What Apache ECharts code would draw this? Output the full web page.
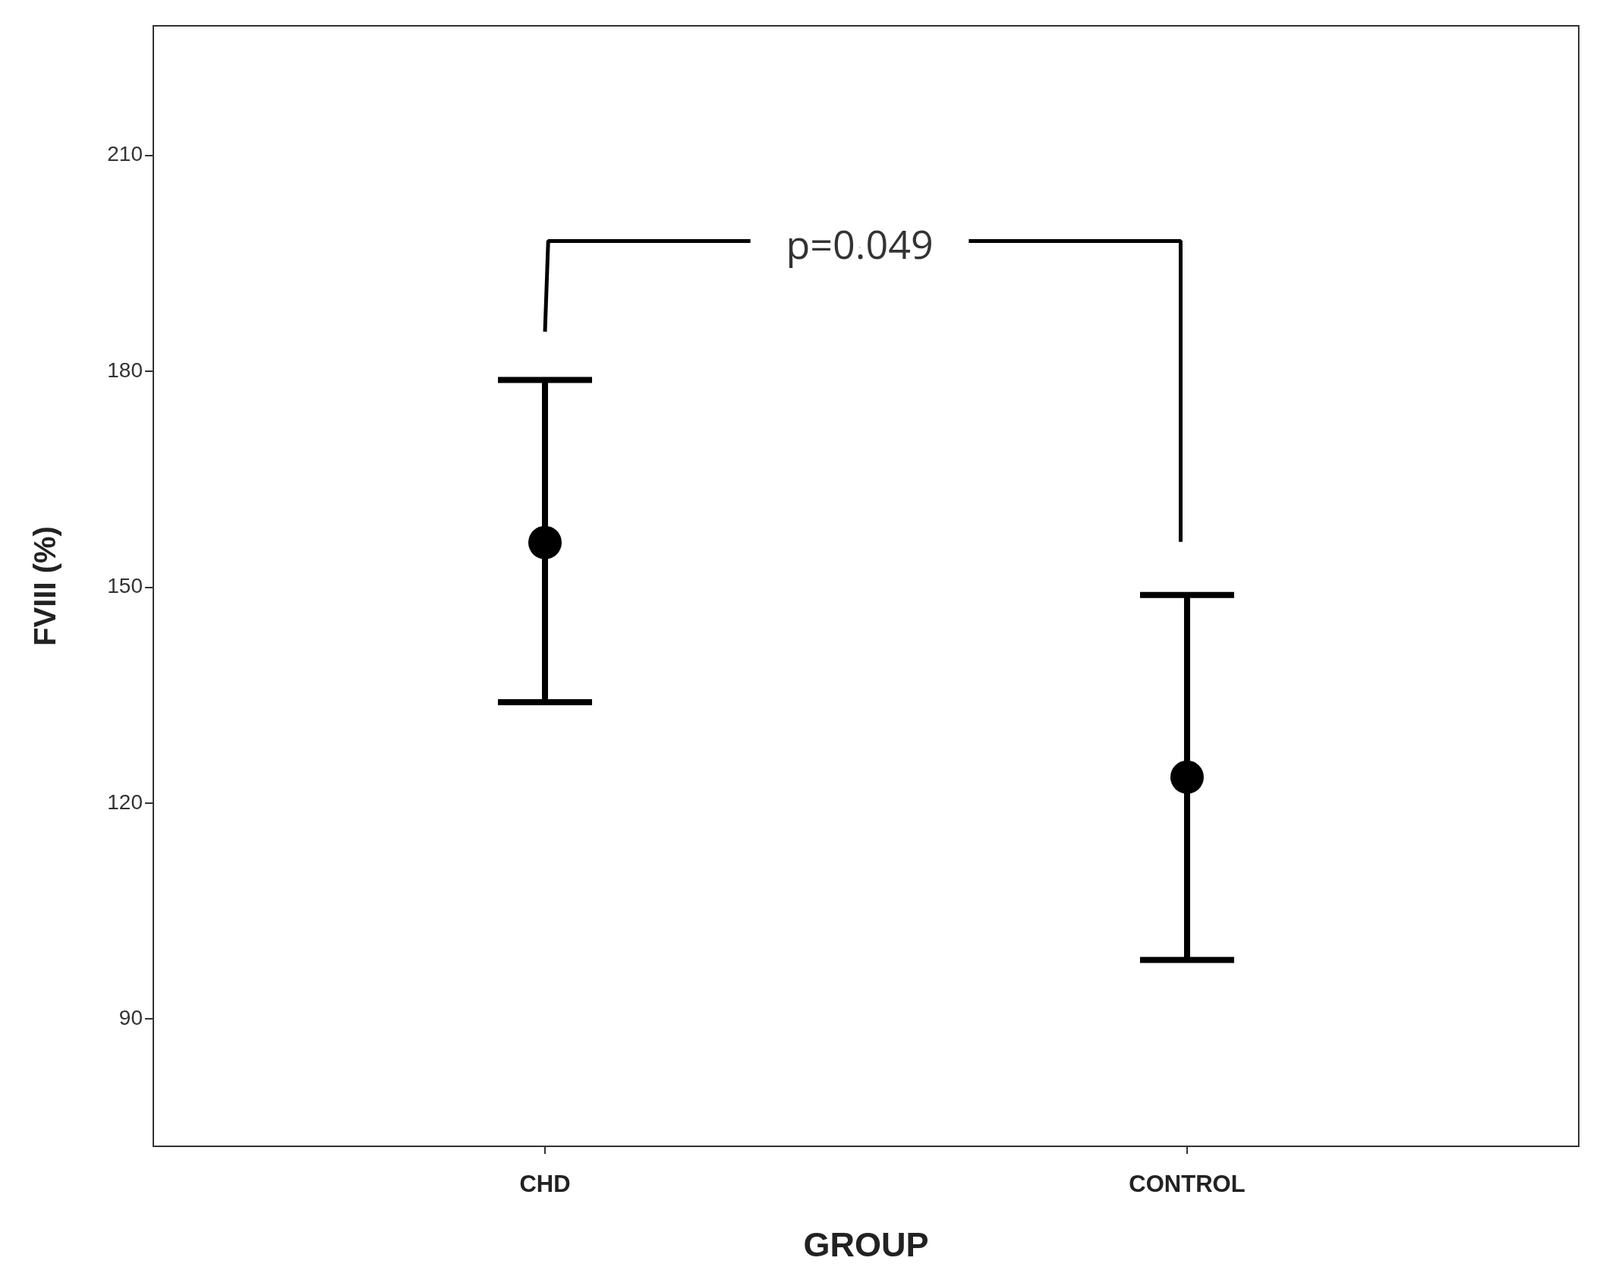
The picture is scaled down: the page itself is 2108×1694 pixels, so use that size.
<!DOCTYPE html>
<html>
<head>
<meta charset="utf-8">
<script src="https://cdn.jsdelivr.net/npm/echarts@6/dist/echarts.min.js"></script>
<style>html,body{margin:0;padding:0;background:#fff}</style>
</head>
<body>
<div id="chart" style="width:2108px;height:1694px;"></div>
<script>
// group positions and labels
var groups = ['CHD', 'CONTROL'];
var groupX = [1, 2];
var means = [156.2, 123.6];
var upper = [178.8, 148.9];
var lower = [134.0, 98.2];
var yTicks = [90, 120, 150, 180, 210];
// significance bracket
var bracketLeft = [[1, 185.5], [1.005, 198.1], [1.32, 198.1]];
var bracketRight = [[1.66, 198.1], [1.99, 198.1], [1.99, 156.3]];
var pText = 'p=0.049';
var pPos = [1.49, 197.2];

var chart = echarts.init(document.getElementById('chart'));

var errData = groupX.map(function (x, i) { return [x, lower[i], upper[i]]; });
var meanData = groupX.map(function (x, i) { return [x, means[i]]; });

var option = {
  animation: false,
  grid: { left: 202, right: 28, top: 34, bottom: 184, show: true, borderColor: '#333', borderWidth: 2 },
  xAxis: {
    type: 'value', min: 0.39, max: 2.61,
    name: 'GROUP', nameLocation: 'middle', nameGap: 110,
    nameTextStyle: { fontFamily: 'Liberation Sans', fontWeight: 'bold', fontSize: 45, color: '#222' },
    splitLine: { show: false },
    axisLine: { show: false },
    axisTick: { show: true, customValues: groupX, length: 10, lineStyle: { color: '#333', width: 2 } },
    axisLabel: {
      customValues: groupX, margin: 36,
      fontFamily: 'Liberation Sans', fontWeight: 'bold', fontSize: 31, color: '#222',
      formatter: function (v) { return groups[groupX.indexOf(v)] || ''; }
    }
  },
  yAxis: {
    type: 'value', min: 72.3, max: 228,
    name: 'FVIII (%)', nameLocation: 'middle', nameGap: 120,
    nameTextStyle: { fontFamily: 'Liberation Sans', fontWeight: 'bold', fontSize: 40, color: '#222' },
    splitLine: { show: false },
    axisLine: { show: false },
    axisTick: { show: true, customValues: yTicks, length: 11, lineStyle: { color: '#333', width: 2 } },
    axisLabel: { customValues: yTicks, margin: 14, fontFamily: 'Liberation Sans', fontSize: 28, color: '#333' }
  },
  series: [
    {
      type: 'custom', data: errData,
      renderItem: function (params, api) {
        var lo = api.coord([api.value(0), api.value(1)]);
        var hi = api.coord([api.value(0), api.value(2)]);
        var hw = 62;
        var st = { stroke: '#000', lineWidth: 8 };
        return { type: 'group', children: [
          { type: 'line', shape: { x1: lo[0], y1: lo[1], x2: hi[0], y2: hi[1] }, style: st },
          { type: 'line', shape: { x1: lo[0] - hw, y1: lo[1], x2: lo[0] + hw, y2: lo[1] }, style: st },
          { type: 'line', shape: { x1: hi[0] - hw, y1: hi[1], x2: hi[0] + hw, y2: hi[1] }, style: st }
        ] };
      }
    },
    { type: 'scatter', data: meanData, symbolSize: 44, itemStyle: { color: '#000', opacity: 1 }, z: 5 },
    { type: 'line', data: bracketLeft, symbol: 'none', lineStyle: { color: '#000', width: 5 } },
    { type: 'line', data: bracketRight, symbol: 'none', lineStyle: { color: '#000', width: 5 } },
    {
      type: 'scatter', data: [pPos], symbolSize: 0,
      label: { show: true, position: 'inside', formatter: pText, fontFamily: 'Open Sans', fontSize: 52, color: '#000' }
    }
  ]
};
chart.setOption(option);
</script>
</body>
</html>
